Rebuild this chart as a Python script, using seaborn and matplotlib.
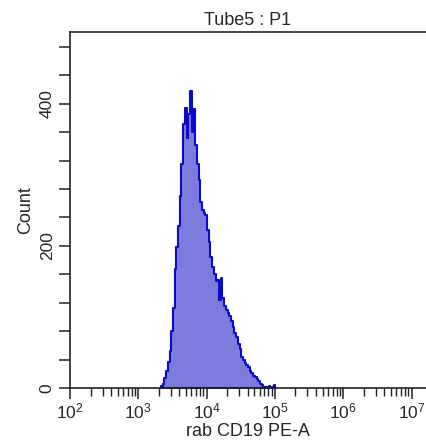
import numpy as np
import pandas as pd
import matplotlib
matplotlib.use("Agg")
import matplotlib.pyplot as plt
import seaborn as sns

# ---- data ----
title = "Tube5 : P1"
xlabel = "rab CD19 PE-A"
ylabel = "Count"
bin_start_log = 3.332      # log10 of first bin edge
bin_width_log = 0.025      # bin width in decades
counts = [3, 6, 14, 24, 36, 52, 80, 112, 168, 198, 228, 270, 315, 372, 394, 352,
          385, 418, 360, 392, 342, 315, 293, 262, 250, 246, 244, 222, 206, 184,
          170, 160, 150, 152, 124, 155, 126, 116, 110, 105, 102, 94, 86, 78, 72,
          62, 55, 44, 40, 35, 32, 29, 24, 21, 17, 15, 12, 10, 6, 4, 2, 1, 0, 3,
          0, 2, 4]
x_decades = [2, 3, 4, 5, 6, 7]
y_ticks = [0, 40, 80, 120, 160, 200, 240, 280, 320, 360, 400, 440, 480]
y_labeled = [0, 200, 400]

# ---- figure ----
sns.set_style("ticks")
plt.rcParams["font.family"] = ["Liberation Sans", "DejaVu Sans"]
plt.rcParams["mathtext.default"] = "regular"

fig = plt.figure(figsize=(4.26, 4.47), dpi=100)
ax = fig.add_axes([70 / 426, 1 - 388 / 447, 1 - 70 / 426, (388 - 32) / 447])

n = len(counts)
edges = bin_start_log + bin_width_log * np.arange(n + 1)
centers = (edges[:-1] + edges[1:]) / 2
df = pd.DataFrame({"logx": centers, "count": counts})

sns.histplot(data=df, x="logx", weights="count", binwidth=bin_width_log,
             binrange=(float(edges[0]), float(edges[-1])), element="step",
             fill=True, color="#7c7cde", alpha=1.0, edgecolor="#0a0acc",
             linewidth=1.5, ax=ax)

ax.set_xlim(2, 2 + 356 / 68.3)
ax.set_ylim(0, 501)

# x ticks: decades + log minor ticks
ax.set_xticks(x_decades)
ax.set_xticklabels([f"$10^{{{d}}}$" for d in x_decades])
minor = [d + np.log10(k) for d in x_decades[:-1] for k in range(2, 10)]
ax.set_xticks(minor, minor=True)

ax.set_yticks(y_ticks)
ax.set_yticklabels([str(v) if v in y_labeled else "" for v in y_ticks],
                   rotation=90, va="center")

ax.tick_params(axis="both", which="major", direction="out", length=8,
               width=1.1, color="#222222", labelsize=12.5, pad=3)
ax.tick_params(axis="x", which="minor", direction="out", length=6,
               width=1.0, color="#222222")
ax.tick_params(axis="x", which="major", pad=2)

for s in ["left", "bottom", "top"]:
    ax.spines[s].set_visible(True)
    ax.spines[s].set_linewidth(1.2)
    ax.spines[s].set_color("#222222")
ax.spines["right"].set_visible(False)

ax.set_xlabel(xlabel, fontsize=13, labelpad=1)
ax.set_ylabel(ylabel, fontsize=13, labelpad=4)
ax.set_title(title, fontsize=13, pad=5)
ax.grid(False)

fig.savefig("out.png", dpi=100)
